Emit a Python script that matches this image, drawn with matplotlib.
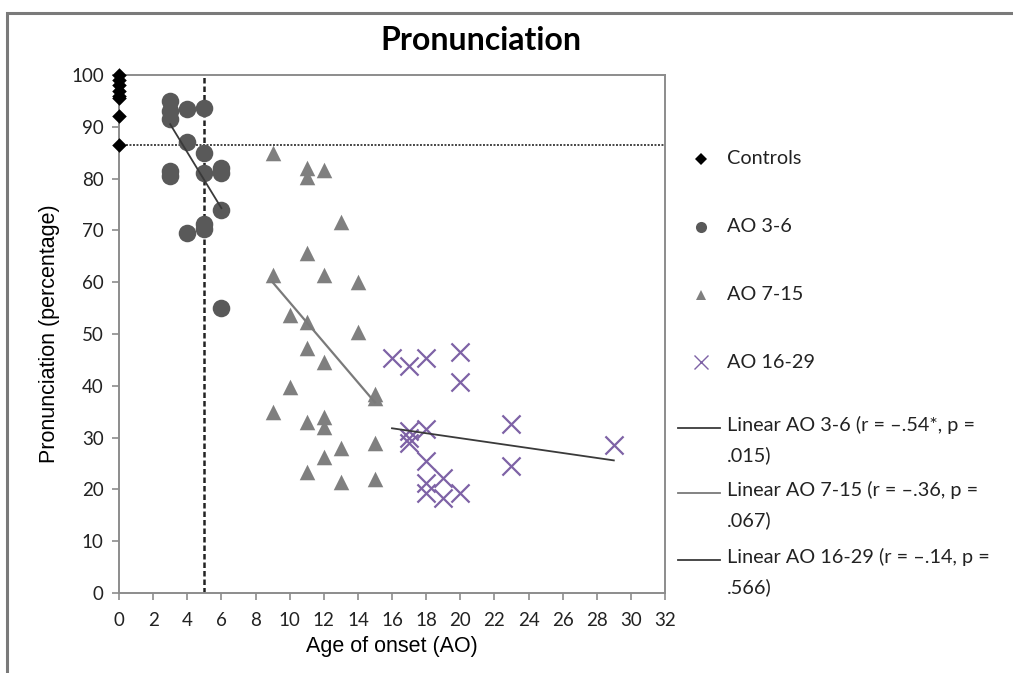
import numpy as np
import matplotlib
matplotlib.use('Agg')
import matplotlib.pyplot as plt
from matplotlib.lines import Line2D
from matplotlib.patches import Rectangle

# data
ctrl_x = [0, 0, 0, 0, 0, 0, 0, 0]
ctrl_y = [100, 99, 98, 97, 96, 95.5, 92, 86.5]

ao36_x = [3, 3, 3, 3, 3, 4, 4, 4, 5, 5, 5, 5, 5, 6, 6, 6, 6]
ao36_y = [95, 93, 91.5, 81.5, 80.5, 93.5, 87, 69.5, 93.7, 85, 81, 71.2, 70.3, 82, 81, 74, 55]

ao715_x = [9, 11, 11, 12, 13, 11, 9, 12, 14, 10, 11, 14, 11, 12, 10, 15, 15,
           9, 11, 12, 12, 15, 13, 12, 11, 13, 15]
ao715_y = [85, 82, 80.3, 81.7, 71.6, 65.6, 61.4, 61.4, 60, 53.7, 52.3, 50.4, 47.3, 44.6, 39.8, 38.5, 37.6,
           35, 33, 34, 32, 29, 28, 26.3, 23.4, 21.5, 22]

ao1629_x = [16, 17, 18, 20, 20, 17, 17, 17, 18, 23, 23, 18, 18, 18, 19, 19, 20, 29]
ao1629_y = [45.3, 43.8, 45.3, 46.6, 40.8, 31.2, 30, 29, 31.6, 32.7, 24.5, 25.4, 21.2, 19.4, 22.2, 18.3, 19.4, 28.6]

# trend lines (end points as drawn)
fit36_x, fit36_y = [3, 6], [90.5, 74.3]
fit715_x, fit715_y = [9, 15], [60, 36.8]
fit1629_x, fit1629_y = [16, 29], [31.8, 25.6]

cutoff_age = 5
cutoff_score = 86.5

legend_labels = ['Controls', 'AO 3-6', 'AO 7-15', 'AO 16-29',
                 'Linear AO 3-6 (r = \u2013.54*, p =\n.015)',
                 'Linear AO 7-15 (r = \u2013.36, p =\n.067)',
                 'Linear AO 16-29 (r = \u2013.14, p =\n.566)']

c_ctrl = 'black'
c_36 = '#595959'
c_715 = '#7f7f7f'
c_1629 = '#7e62a6'
c_fit36 = '#3a3a3a'
c_fit715 = '#7a7a7a'
c_fit1629 = '#3a3a3a'
spine_c = '#8c8c8c'

W, H = 1013, 673
fig = plt.figure(figsize=(W / 100, H / 100), dpi=100)
ax = fig.add_axes([119 / W, 1 - 593 / H, (665 - 119) / W, (593 - 75) / H])

# outer frame
fig.patches.append(Rectangle((7 / W, -0.1), 1.2, 1 - 13 / H + 0.1, transform=fig.transFigure,
                             fill=False, edgecolor='#7a7a7a', lw=2.2))

# reference lines
ax.axvline(cutoff_age, color='#222222', lw=1.8, ls=(0, (2.2, 1.2)), zorder=1)
ax.axhline(cutoff_score, color='#444444', lw=1.4, ls=(0, (1, 0.8)), zorder=1)

ax.scatter(ao36_x, ao36_y, marker='o', s=160, c=c_36, zorder=3, linewidths=0)
ax.scatter(ao715_x, ao715_y, marker='^', s=125, c=c_715, zorder=3, linewidths=0)
ax.scatter(ao1629_x, ao1629_y, marker='x', s=170, c=c_1629, zorder=3, linewidths=1.6)
ax.scatter(ctrl_x, ctrl_y, marker='D', s=55, c=c_ctrl, zorder=4, clip_on=False, linewidths=0)

ax.plot(fit36_x, fit36_y, color=c_fit36, lw=1.3, zorder=5)
ax.plot(fit715_x, fit715_y, color=c_fit715, lw=1.6, zorder=5)
ax.plot(fit1629_x, fit1629_y, color=c_fit1629, lw=1.3, zorder=5)

ax.set_xlim(0, 32)
ax.set_ylim(0, 100)
ax.set_xticks(np.arange(0, 33, 2))
ax.set_yticks(np.arange(0, 101, 10))
for s in ax.spines.values():
    s.set_color(spine_c)
    s.set_linewidth(1.4)
ax.tick_params(direction='out', length=5, width=1.2, color=spine_c,
               labelsize=13.5, labelcolor='#222222', pad=6)
ax.tick_params(axis='x', pad=9)
for lab in ax.get_xticklabels() + ax.get_yticklabels():
    lab.set_family('Lato')
ax.set_xlabel('Age of onset (AO)', fontsize=15.5, family='Liberation Sans', labelpad=5)
ax.set_ylabel('Pronunciation (percentage)', fontsize=15.5, family='Liberation Sans', labelpad=8)

fig.text(481 / W, 1 - 40 / H, 'Pronunciation', ha='center', va='center',
         fontsize=23, fontweight='bold', family='Lato')

# legend drawn by hand to keep the spacing of the original
tf = fig.transFigure
mk = [('D', c_ctrl, 6), ('o', c_36, 8), ('^', c_715, 7.5), ('x', c_1629, 10)]
ys = [159, 227, 295, 362]
for (m, c, ms), yy, lab in zip(mk, ys, legend_labels[:4]):
    fig.add_artist(Line2D([701 / W], [1 - yy / H], transform=tf, marker=m, color=c,
                          markersize=ms, ls='none', mew=1.0 if m == 'x' else 0))
    fig.text(727 / W, 1 - yy / H, lab, va='center', ha='left', fontsize=14.3, family='Lato', color='#222222')
ly = [428, 493, 560]
for yy, lab, c in zip(ly, legend_labels[4:], [c_fit36, c_fit715, c_fit1629]):
    fig.add_artist(Line2D([678 / W, 720 / W], [1 - yy / H] * 2, transform=tf, color=c, lw=1.3))
    fig.text(727 / W, 1 - (yy - 12) / H, lab, va='top', ha='left', fontsize=14.3, family='Lato',
             color='#222222', linespacing=1.85)

fig.savefig('out.png', dpi=100)
